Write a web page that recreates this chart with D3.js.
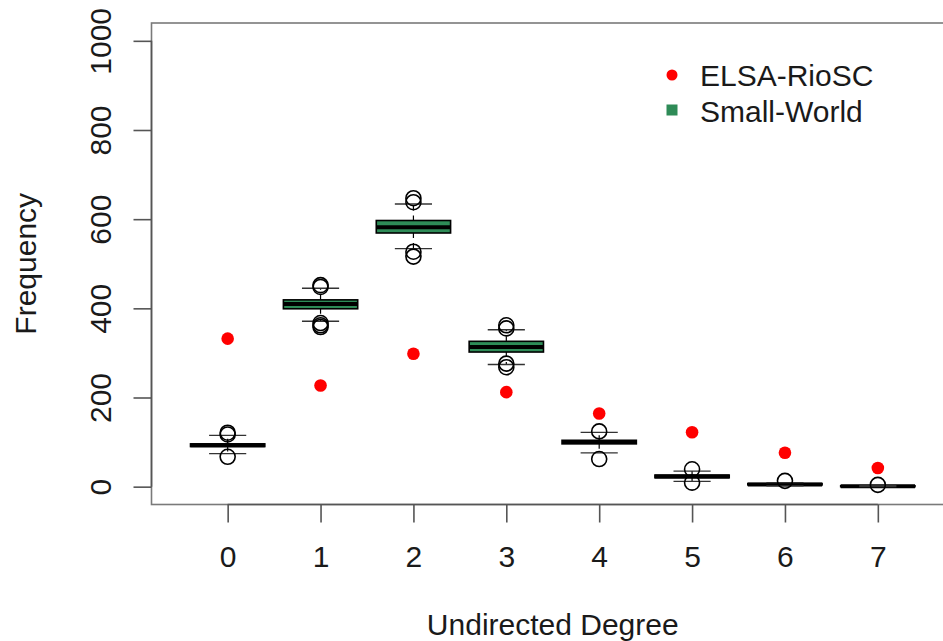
<!DOCTYPE html>
<html>
<head>
<meta charset="utf-8">
<script src="https://cdn.jsdelivr.net/npm/d3@7"></script>
<style>
  html, body { margin: 0; padding: 0; background: #fff; }
  svg { display: block; font-family: "Liberation Sans", Arial, Helvetica, sans-serif; }
</style>
</head>
<body>
<svg id="chart" width="943" height="641"></svg>
<script>
// Undirected degree categories
const degrees = [0, 1, 2, 3, 4, 5, 6, 7];

// Observed frequencies (ELSA-RioSC network)
const elsaFreq = [332, 227, 298, 212, 164, 122, 76, 42];

// Simulated small-world networks: box statistics per degree
// [lower whisker, first quartile, median, third quartile, upper whisker]
const swLowWhisker = [74, 371, 534, 274, 76, 12, 2, 0];
const swQ1         = [90, 399, 569, 302, 96, 20, 4, 0];
const swMedian     = [93, 410, 582, 313, 100, 23, 5, 1];
const swQ3         = [96, 419, 597, 326, 104, 26, 7, 2];
const swHighWhisker= [115, 445, 634, 352, 122, 35, 9, 3];
const swOutliers   = [
  [121, 117, 67],
  [452, 448, 367, 362, 358],
  [647, 638, 527, 516],
  [362, 355, 276, 268],
  [124, 62],
  [39, 9],
  [13],
  [4]
];

const yTicks = [0, 200, 400, 600, 800, 1000];
const legendLabels = ["ELSA-RioSC", "Small-World"];

const RED = "#ff0000";
const GREEN = "#2e8b57";
const TEXT = "#1a1a1a";
const FONT = 30;

const svg = d3.select("#chart");
svg.append("rect").attr("width", 943).attr("height", 641).attr("fill", "#fff");

const plotLeft = 151.5, plotRight = 954, plotTop = 23, plotBottom = 504.5;

// Group positions 1..8 with R-style 4% padding around [0.5, 8.5]
const x = d3.scaleLinear().domain([0.18, 8.82]).range([plotLeft, plotRight]);
const y = d3.scaleLinear().domain([-40, 1040]).range([plotBottom, plotTop]);

const unit = x(2) - x(1);
const boxHalf = 0.4 * unit;
const stapleHalf = 0.2 * unit;

// Boxplots
const groups = svg.append("g").selectAll("g")
  .data(degrees.map((d, i) => ({
    d, i,
    lo: swLowWhisker[i], q1: swQ1[i], med: swMedian[i], q3: swQ3[i], hi: swHighWhisker[i],
    out: swOutliers[i]
  })))
  .join("g");

groups.append("rect")
  .attr("x", g => x(g.i + 1) - boxHalf)
  .attr("y", g => y(g.q3))
  .attr("width", 2 * boxHalf)
  .attr("height", g => y(g.q1) - y(g.q3))
  .attr("fill", GREEN)
  .attr("stroke", "#000")
  .attr("stroke-width", 1.6);

groups.append("line")
  .attr("x1", g => x(g.i + 1) - boxHalf)
  .attr("x2", g => x(g.i + 1) + boxHalf)
  .attr("y1", g => y(g.med))
  .attr("y2", g => y(g.med))
  .attr("stroke", "#000")
  .attr("stroke-width", 4);

// Whiskers (dashed) and staples
groups.append("line")
  .attr("x1", g => x(g.i + 1)).attr("x2", g => x(g.i + 1))
  .attr("y1", g => y(g.q3)).attr("y2", g => y(g.hi))
  .attr("stroke", "#000").attr("stroke-width", 1.2)
  .attr("stroke-dasharray", "5,5");
groups.append("line")
  .attr("x1", g => x(g.i + 1)).attr("x2", g => x(g.i + 1))
  .attr("y1", g => y(g.q1)).attr("y2", g => y(g.lo))
  .attr("stroke", "#000").attr("stroke-width", 1.2)
  .attr("stroke-dasharray", "5,5");
groups.append("line")
  .attr("x1", g => x(g.i + 1) - stapleHalf).attr("x2", g => x(g.i + 1) + stapleHalf)
  .attr("y1", g => y(g.hi)).attr("y2", g => y(g.hi))
  .attr("stroke", "#333").attr("stroke-width", 1.3);
groups.append("line")
  .attr("x1", g => x(g.i + 1) - stapleHalf).attr("x2", g => x(g.i + 1) + stapleHalf)
  .attr("y1", g => y(g.lo)).attr("y2", g => y(g.lo))
  .attr("stroke", "#333").attr("stroke-width", 1.3);

// Outliers as open circles
groups.selectAll("circle")
  .data(g => g.out.map(v => ({ i: g.i, v })))
  .join("circle")
  .attr("cx", o => x(o.i + 1))
  .attr("cy", o => y(o.v))
  .attr("r", 7.5)
  .attr("fill", "none")
  .attr("stroke", "#000")
  .attr("stroke-width", 1.6);

// Observed network points
svg.append("g").selectAll("circle")
  .data(elsaFreq)
  .join("circle")
  .attr("cx", (v, i) => x(i + 1))
  .attr("cy", v => y(v))
  .attr("r", 6.3)
  .attr("fill", RED);

// Plot frame
svg.append("rect")
  .attr("x", plotLeft).attr("y", plotTop)
  .attr("width", plotRight - plotLeft).attr("height", plotBottom - plotTop)
  .attr("fill", "none").attr("stroke", "#7a7a7a").attr("stroke-width", 1.6);

// Y axis
const yAxis = svg.append("g")
  .attr("transform", `translate(${plotLeft},0)`)
  .call(d3.axisLeft(y).tickValues(yTicks).tickSize(18).tickFormat(d3.format("d")));
yAxis.select(".domain").remove();
yAxis.append("line")
  .attr("x1", 0).attr("x2", 0)
  .attr("y1", y(0)).attr("y2", y(1000))
  .attr("stroke", "#555").attr("stroke-width", 1.6);
yAxis.selectAll(".tick line").attr("stroke", "#555").attr("stroke-width", 1.6);
yAxis.selectAll(".tick text")
  .attr("x", 0).attr("y", 0).attr("dy", 0)
  .attr("transform", "translate(-40.5,0) rotate(-90)")
  .attr("text-anchor", "middle")
  .attr("fill", TEXT)
  .style("font-size", FONT + "px")
  .style("font-family", "Liberation Sans, Arial, sans-serif");

// X axis
const xAxis = svg.append("g")
  .attr("transform", `translate(0,${plotBottom})`)
  .call(d3.axisBottom(x).tickValues(degrees.map(d => d + 1)).tickSize(18)
    .tickFormat(v => String(degrees[v - 1])));
xAxis.select(".domain").remove();
xAxis.append("line")
  .attr("x1", x(1)).attr("x2", x(8))
  .attr("y1", 0).attr("y2", 0)
  .attr("stroke", "#555").attr("stroke-width", 1.6);
xAxis.selectAll(".tick line").attr("stroke", "#555").attr("stroke-width", 1.6);
xAxis.selectAll(".tick text")
  .attr("y", 62.5).attr("dy", 0)
  .attr("fill", TEXT)
  .style("font-size", FONT + "px")
  .style("font-family", "Liberation Sans, Arial, sans-serif");

// Axis titles
svg.append("text")
  .attr("x", (plotLeft + plotRight) / 2).attr("y", 635)
  .attr("text-anchor", "middle")
  .attr("fill", TEXT)
  .style("font-size", FONT + "px")
  .text("Undirected Degree");
svg.append("text")
  .attr("transform", `translate(36,${(plotTop + plotBottom) / 2}) rotate(-90)`)
  .attr("text-anchor", "middle")
  .attr("fill", TEXT)
  .style("font-size", FONT + "px")
  .text("Frequency");

// Legend
const legend = svg.append("g");
legend.append("circle").attr("cx", 672).attr("cy", 75).attr("r", 5.5).attr("fill", RED);
legend.append("rect").attr("x", 666.5).attr("y", 104.5).attr("width", 11).attr("height", 11).attr("fill", GREEN);
legend.selectAll("text")
  .data(legendLabels)
  .join("text")
  .attr("x", 700)
  .attr("y", (d, i) => 86 + i * 35.5)
  .attr("fill", TEXT)
  .style("font-size", FONT + "px")
  .text(d => d);
</script>
</body>
</html>
